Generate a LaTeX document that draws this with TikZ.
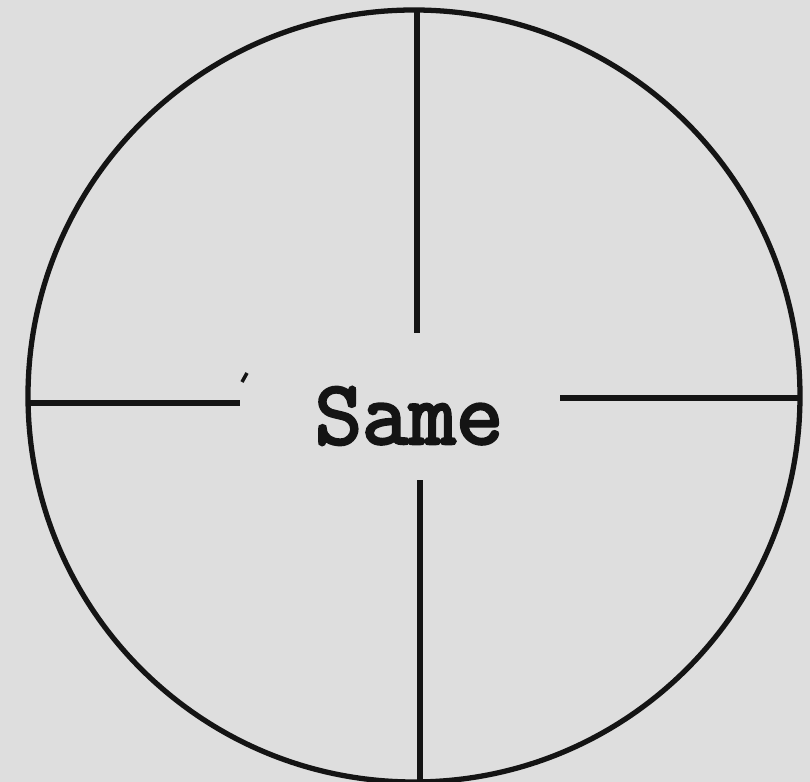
\documentclass[tikz,border=0pt]{standalone}
\usepackage{fontspec}
\usepackage{xcolor}
\usepackage{tikz}
\usetikzlibrary{positioning}
\newfontfamily\typefont[FakeBold=3]{Latin Modern Mono}
\definecolor{PaperGray}{RGB}{222,222,222}
\definecolor{nInk}{RGB}{20,20,20}
\begin{document}
\begin{tikzpicture}[line width=1.5pt, draw=nInk]
      \fill[PaperGray] (0,0) rectangle (8.1,7.82);
      \useasboundingbox (0,0) rectangle (8.1,7.82);
      \node[draw=nInk, circle, minimum size=7.72cm, inner sep=0pt, outer sep=0pt] (ring) at (4.14,3.86) {};
      \node[font=\typefont\fontsize{26}{28}\selectfont, text=nInk] (label) at (4.09,3.66) {Same};
      \coordinate (topin) at (4.17,4.49);
      \coordinate (botin) at (4.20,3.02);
      \coordinate (leftin) at (2.40,3.79);
      \coordinate (rightin) at (5.60,3.84);
      \draw[nInk] (ring.north -| topin) -- (topin);
      \draw[nInk] (ring.south -| botin) -- (botin);
      \draw[nInk] (ring.west |- leftin) -- (leftin);
      \draw[nInk] (ring.east |- rightin) -- (rightin);
      \draw[nInk, line width=1pt] (2.42,4.00) -- (2.47,4.09);
    \end{tikzpicture}
\end{document}
